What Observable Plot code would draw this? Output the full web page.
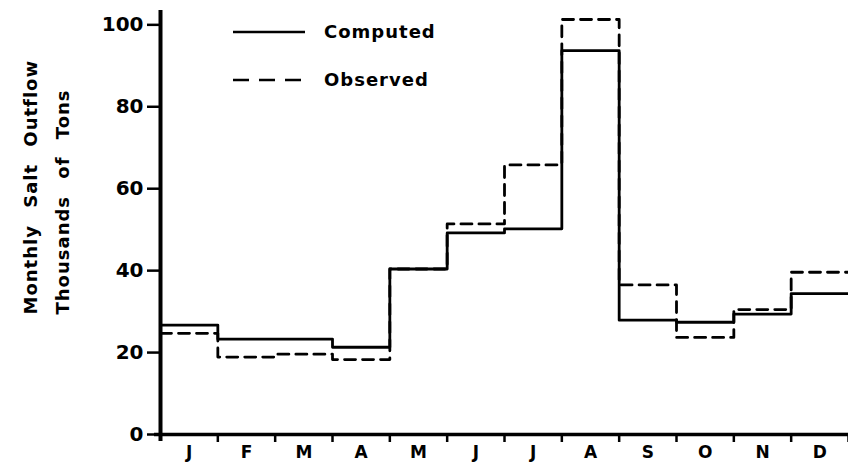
<!DOCTYPE html>
<html>
<head>
<meta charset="utf-8">
<script src="https://cdn.jsdelivr.net/npm/d3@7"></script>
<script src="https://cdn.jsdelivr.net/npm/@observablehq/plot@0.6"></script>
<style>
  body { margin: 0; background: #fff; }
  #chart { position: relative; width: 848px; height: 463px; }
  #chart svg text { font-family: "DejaVu Sans", sans-serif; font-weight: bold; }
  .ylab text { word-spacing: 10px; letter-spacing: 1px; }
  #legend { position: absolute; left: 0; top: 0; pointer-events: none; }
  #legend text { font-size: 18px; letter-spacing: 1px; }
</style>
</head>
<body>
<div id="chart"></div>
<script>
// Monthly salt outflow, thousands of tons
const months = ["J", "F", "M", "A", "M", "J", "J", "A", "S", "O", "N", "D"];
const computed = [26.7, 23.3, 23.3, 21.3, 40.4, 49.2, 50.2, 93.7, 27.9, 27.4, 29.4, 34.4];
const observed = [24.7, 18.9, 19.6, 18.3, 40.4, 51.4, 65.8, 101.3, 36.5, 23.7, 30.5, 39.6];
const yTicks = [0, 20, 40, 60, 80, 100];
const seriesNames = ["Computed", "Observed"];
const yTitle = ["Monthly Salt Outflow", "Thousands of Tons"];

// each month is a unit interval; repeat December at the end so the last step is drawn
const stepRows = values => d3.range(13).map(i => ({m: i, v: values[Math.min(i, 11)]}));
const dash = {Computed: null, Observed: "11,7"};

const chart = Plot.plot({
  width: 848,
  height: 463,
  marginLeft: 160,
  marginRight: 0,
  marginTop: 10,
  marginBottom: 29,
  x: {domain: [0, 12]},
  y: {domain: [0, 103.5]},
  style: {background: "#fff", color: "#000", overflow: "visible"},
  marks: [
    Plot.axisY({ticks: yTicks, tickSize: 13, tickPadding: 4, fontSize: 20, strokeWidth: 2.5, label: null}),
    Plot.axisX({ticks: d3.range(1, 13), tickSize: 8, strokeWidth: 2.5, tickFormat: () => "", label: null}),
    Plot.axisX({ticks: d3.range(12).map(i => i + 0.5), tickSize: 0, tickPadding: 11, fontSize: 17,
                tickFormat: d => months[Math.floor(d)], label: null}),
    Plot.ruleX([0], {strokeWidth: 4, insetBottom: -7}),
    Plot.ruleY([0], {strokeWidth: 3.5, insetLeft: -6}),
    Plot.line(stepRows(computed), {x: "m", y: "v", curve: "step-after", strokeWidth: 2.8}),
    Plot.line(stepRows(observed), {x: "m", y: "v", curve: "step-after", strokeWidth: 2.8,
                                   strokeDasharray: dash.Observed}),
    Plot.text([yTitle.join("\n")], {frameAnchor: "left", dx: -118, dy: 92, rotate: -90,
                                    textAnchor: "start", fontSize: 18, lineHeight: 1.8,
                                    className: "ylab"})
  ]
});
document.getElementById("chart").append(chart);

// key for the two series, drawn over the upper-left of the plot area
const legend = d3.select("#chart").append("svg")
  .attr("id", "legend").attr("width", 848).attr("height", 110);
const rows = legend.selectAll("g").data(seriesNames).join("g")
  .attr("transform", (d, i) => `translate(0, ${32 + i * 48})`);
rows.append("line")
  .attr("x1", 233).attr("x2", 305)
  .attr("stroke", "#000").attr("stroke-width", 2.5)
  .attr("stroke-dasharray", d => dash[d] ? "16,10" : null);
rows.append("text")
  .attr("x", 324).attr("dy", "0.36em")
  .text(d => d);
</script>
</body>
</html>
